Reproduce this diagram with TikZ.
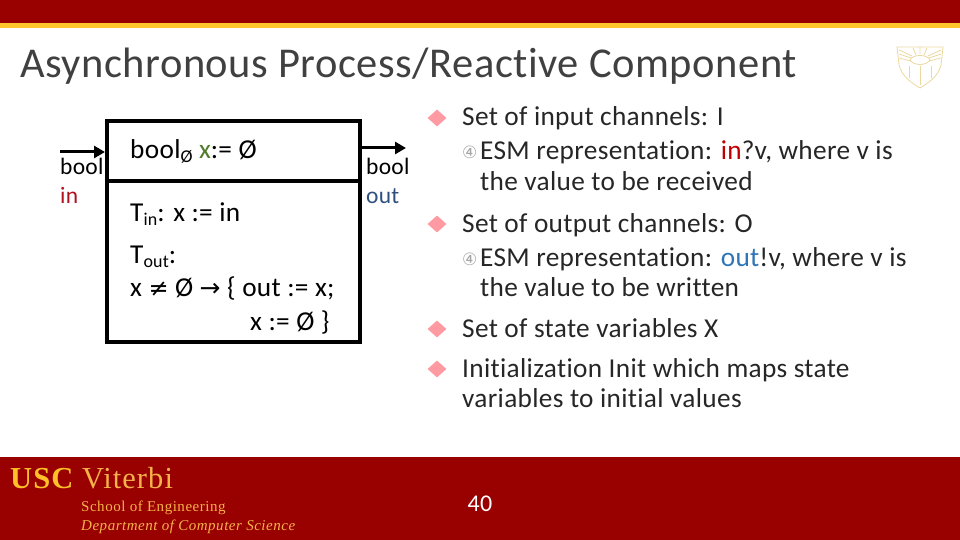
\documentclass[tikz,border=0pt]{standalone}
\usepackage{fontspec}
\setmainfont[LetterSpace=1.2,Ligatures=NoCommon]{Carlito}
\newfontfamily\symfont{DejaVu Sans}
\newfontfamily\footfont[LetterSpace=3.5]{Liberation Serif}
\usetikzlibrary{shapes.geometric,arrows.meta}
\definecolor{uscred}{HTML}{990000}
\definecolor{uscgold}{HTML}{FFC72C}
\definecolor{footgold}{HTML}{F5B24A}
\definecolor{titlegrey}{HTML}{404040}
\definecolor{inred}{HTML}{B01020}
\definecolor{outblue}{HTML}{2F4F7F}
\definecolor{inbright}{HTML}{C00000}
\definecolor{outbright}{HTML}{2E75B6}
\definecolor{xgreen}{HTML}{4F7A28}
\definecolor{bulletpink}{HTML}{FF9AA2}
\definecolor{crestgold}{HTML}{EBD8A0}
\newcommand{\fs}[1]{\fontsize{#1}{#1}\selectfont}
\begin{document}
\begin{tikzpicture}[x=1pt,y=-1pt,
  lbl/.style={anchor=base west,inner sep=0pt,font=\fs{23.5}},
  boxlbl/.style={anchor=base west,inner sep=0pt,font=\fs{27.3}},
  txt/.style={anchor=base west,inner sep=0pt,font=\fs{27.3},text=black!85},
  bullet/.style={diamond,fill=bulletpink,inner sep=0pt,minimum width=19pt,minimum height=17pt},
  subbullet/.style={anchor=base west,inner sep=0pt,font=\symfont\fs{17},text=black!35},
  compbox/.style={draw,line width=4pt,minimum width=253pt,inner sep=0pt},
  foot/.style={anchor=base west,inner sep=0pt,text=footgold},
  arrowline/.style={line width=3pt,-{Triangle[length=11pt,width=12pt]}},
  crest/.style={crestgold,line width=0.8pt}]

  \useasboundingbox (0,0) rectangle (960,540);
  \fill[uscred] (0,0) rectangle (960,23);
  \fill[uscgold] (0,23) rectangle (960,28);
  \fill[uscred] (0,457) rectangle (960,540);

  \node[anchor=base west,inner sep=0pt,font=\fs{42.5},text=titlegrey] (title) at (20,78)
    {Asynchronous Process/Reactive Component};

  \draw[crest] (897,47) -- (943,47) -- (941,65) .. controls (938,77) and (928,83) .. (920,88)
    .. controls (912,83) and (902,77) .. (899,65) -- cycle;
  \draw[crest] (899,50) -- (912,56) (899,54) -- (911,58) (899,58) -- (911,61)
    (941,50) -- (928,56) (941,54) -- (929,58) (941,58) -- (929,61);
  \draw[crest] (920,47) -- (920,54) (913,48) -- (916,55) (927,48) -- (924,55);
  \draw[crest] (910,60) .. controls (912,54) and (928,54) .. (930,60) .. controls (926,66) and (914,66) .. (910,60);
  \draw[crest] (909,66) -- (909,78) (920,66) -- (920,85) (931,66) -- (931,78);

  \node[compbox,minimum height=60pt] (stateBox) at (233.5,151) {};
  \node[compbox,minimum height=161pt] (transBox) at (233.5,261.5) {};

  \coordinate (inEnd) at (60,152);
  \coordinate (outEnd) at (406,148);
  \draw[arrowline] (inEnd) -- (inEnd -| stateBox.west);
  \draw[arrowline] (outEnd -| stateBox.east) -- (outEnd);

  \node[lbl] (inType) at (60,175) {bool};
  \node[lbl,text=inred] (inName) at (60,204) {in};
  \node[lbl] (outType) at (366,175) {bool};
  \node[lbl,text=outblue] (outName) at (366,204) {out};

  \node[boxlbl] (stateDecl) at (130,159)
    {bool\raisebox{-4pt}{\fs{18}Ø} \textcolor{xgreen}{x}:= Ø};
  \node[boxlbl] (tIn) at (130,221) {T\raisebox{-4pt}{\fs{18}in}: x := in};
  \node[boxlbl] (tOut) at (130,263) {T\raisebox{-4pt}{\fs{18}out}:};
  \node[boxlbl] (guard) at (130,296) {x {\symfont\fs{24}≠} Ø {\symfont\fs{25}→} \{ out := x;};
  \node[boxlbl] (reset) at (250,330) {x := Ø \}};

  \node[bullet] (b1) at (437,118) {};
  \node[bullet] (b2) at (437,224) {};
  \node[bullet] (b3) at (437,329) {};
  \node[bullet] (b4) at (437,369) {};

  \node[txt] (inSet) at (462,126) {Set of input channels: I};
  \node[subbullet] (s1) at (462,159) {④};
  \node[txt] (inEsm) at (480,160) {ESM representation: \textcolor{inbright}{in}?v, where v is};
  \node[txt] (inEsmB) at (480,190) {the value to be received};
  \node[txt] (outSet) at (462,232) {Set of output channels: O};
  \node[subbullet] (s2) at (462,265) {④};
  \node[txt] (outEsm) at (480,266) {ESM representation: \textcolor{outbright}{out}!v, where v is};
  \node[txt] (outEsmB) at (480,296) {the value to be written};
  \node[txt] (stateSet) at (462,337) {Set of state variables X};
  \node[txt] (initA) at (462,377) {Initialization Init which maps state};
  \node[txt] (initB) at (462,407) {variables to initial values};

  \node[foot,font=\footfont\fs{30.5}] (viterbi) at (10,488)
    {\textbf{\textcolor{uscgold!90!orange}{USC}} Viterbi};
  \node[foot,font=\footfont\fs{15}] (school) at (81,511) {School of Engineering};
  \node[foot,font=\footfont\itshape\fs{15}] (dept) at (81,530) {Department of Computer Science};
  \node[anchor=base,inner sep=0pt,font=\fs{24},text=white] (page) at (480,511) {40};
\end{tikzpicture}
\end{document}
